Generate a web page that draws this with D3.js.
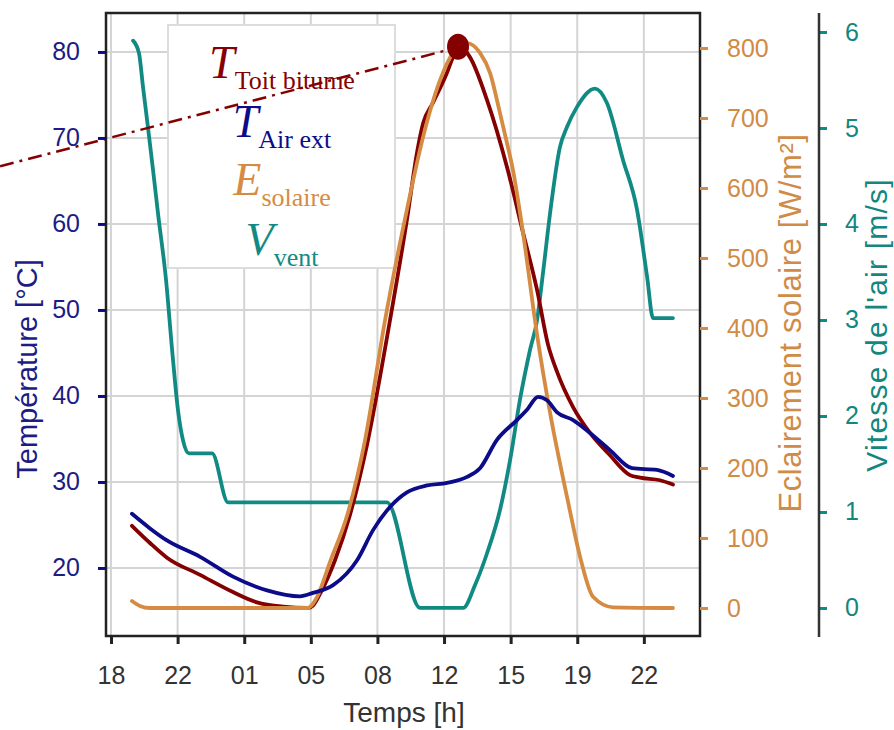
<!DOCTYPE html>
<html>
<head>
<meta charset="utf-8">
<script src="https://cdn.jsdelivr.net/npm/d3@7"></script>
<style>
  body { margin: 0; background: #fff; }
  text { font-family: "Liberation Sans", Arial, sans-serif; }
</style>
</head>
<body>
<svg id="chart" width="894" height="730"></svg>
<script>
// time in hours after 18:00
var xTickHours = [0, 3.5, 7, 10.5, 14, 17.5, 21, 24.5, 28];
var xTickLabels = ["18", "22", "01", "05", "08", "12", "15", "19", "22"];
var tempTicks = [20, 30, 40, 50, 60, 70, 80];
var solarTicks = [0, 100, 200, 300, 400, 500, 600, 700, 800];
var windTicks = [0, 1, 2, 3, 4, 5, 6];

var timeAir = [1.1, 2.05, 2.94, 4.68, 6.41, 8.2, 9.93, 10.61, 11.67, 12.93, 13.77, 14.66, 15.55, 16.61, 17.66, 18.71, 19.39, 20.28, 21.33, 21.86, 22.44, 22.91, 23.44, 24.28, 25.17, 26.22, 27.38, 28.69, 29.53];
var airTemp = [26.3, 24.6, 23.2, 21.3, 19.0, 17.4, 16.7, 17.1, 18.0, 20.9, 24.4, 27.1, 28.8, 29.6, 29.9, 30.6, 31.6, 34.9, 37.2, 38.4, 39.9, 39.5, 38.1, 37.2, 35.7, 33.7, 31.6, 31.4, 30.7];

var timeRoof = [1.1, 2.05, 2.94, 4.68, 6.41, 7.67, 9.04, 10.35, 10.6, 11.03, 11.77, 12.56, 13.45, 14.66, 15.55, 16.08, 16.4, 16.92, 17.66, 17.97, 18.34, 18.86, 19.76, 20.81, 21.65, 22.39, 22.96, 23.44, 24.28, 25.17, 26.22, 27.27, 27.8, 28.85, 29.53];
var roofTemp = [24.9, 22.9, 21.2, 19.2, 17.2, 16.0, 15.5, 15.35, 15.6, 17.2, 20.9, 26.2, 34.3, 48.8, 60.5, 68.3, 71.7, 74.1, 77.6, 79.4, 80.6, 79.4, 74.4, 66.6, 59.0, 52.3, 46.0, 42.8, 38.7, 35.7, 33.1, 30.8, 30.5, 30.2, 29.7];

var timeSolar = [1.1, 1.52, 2.05, 10.35, 10.51, 10.83, 11.51, 12.45, 13.35, 14.4, 15.55, 16.4, 17.29, 17.97, 18.71, 19.39, 19.92, 20.44, 20.81, 21.12, 21.65, 22.39, 23.07, 23.96, 24.65, 25.33, 26.38, 29.53];
var solar = [10, 3, 0, 0, 3, 16, 66, 136, 240, 411, 569, 673, 754, 793, 807, 793, 764, 707, 664, 626, 536, 390, 279, 159, 73, 16, 1, 0];

var timeWind = [1.16, 1.47, 1.68, 1.94, 2.21, 2.47, 2.89, 3.21, 3.52, 3.78, 4.1, 5.31, 6.15, 14.5, 16.24, 18.5, 19.13, 19.76, 20.44, 20.97, 21.49, 22.02, 22.39, 22.7, 23.07, 23.59, 23.96, 24.49, 25.43, 26.06, 26.9, 27.64, 28.17, 28.48, 29.53];
var wind = [5.91, 5.78, 5.43, 5.01, 4.56, 4.11, 3.42, 2.69, 2.06, 1.75, 1.61, 1.61, 1.1, 1.1, 0, 0, 0.24, 0.57, 1.02, 1.54, 2.17, 2.69, 3.0, 3.49, 4.11, 4.8, 5.01, 5.22, 5.41, 5.26, 4.67, 4.15, 3.45, 3.02, 3.02];

// start of the dash-dot pointer to the roof peak
var pointerFrom = [-5.83, 66.7];

var colors = { roof: "#850000", air: "#0c0c8a", solar: "#d68b42", wind: "#128a84" };

var svg = d3.select("#chart"),
    plot = { left: 106, top: 13, right: 700, bottom: 636 },
    windAxisX = 819;

var x = d3.scaleLinear().domain([-0.263, 30.95]).range([plot.left, plot.right]);
var yT = d3.scaleLinear().domain([12.09, 84.53]).range([plot.bottom, plot.top]);
var yE = d3.scaleLinear().domain([-40, 850]).range([plot.bottom, plot.top]);
var yV = d3.scaleLinear().domain([-0.292, 6.198]).range([plot.bottom, plot.top]);

// grid
var grid = svg.append("g").attr("stroke", "#d4d4d4").attr("stroke-width", 2);
grid.selectAll("line.v")
    .data(xTickHours)
    .enter().append("line")
    .attr("x1", x).attr("x2", x)
    .attr("y1", plot.top).attr("y2", plot.bottom);
grid.selectAll("line.h")
    .data(tempTicks)
    .enter().append("line")
    .attr("x1", plot.left).attr("x2", plot.right)
    .attr("y1", yT).attr("y2", yT);

// legend box
var legend = svg.append("g");
legend.append("rect")
    .attr("x", 168).attr("y", 25)
    .attr("width", 227).attr("height", 243)
    .attr("fill", "#fff")
    .attr("stroke", "#dcdcdc")
    .attr("stroke-width", 2);

var legendItems = [
    { main: "T", sub: "Toit bitume", color: colors.roof, y: 78 },
    { main: "T", sub: "Air ext", color: colors.air, y: 137 },
    { main: "E", sub: "solaire", color: colors.solar, y: 195 },
    { main: "V", sub: "vent", color: colors.wind, y: 255 }
];
var lt = legend.selectAll("text")
    .data(legendItems)
    .enter().append("text")
    .attr("x", 282)
    .attr("y", function (d) { return d.y; })
    .attr("text-anchor", "middle")
    .attr("fill", function (d) { return d.color; })
    .style("font-family", "'Liberation Serif', 'Times New Roman', serif");
lt.append("tspan")
    .attr("font-size", 46)
    .attr("font-style", "italic")
    .text(function (d) { return d.main; });
lt.append("tspan")
    .attr("font-size", 26)
    .attr("dy", 11)
    .text(function (d) { return d.sub; });

// series
function series(times, values, y, color) {
    var pts = times.map(function (t, i) { return [t, values[i]]; });
    svg.append("path")
        .datum(pts)
        .attr("fill", "none")
        .attr("stroke", color)
        .attr("stroke-width", 3.8)
        .attr("stroke-linejoin", "round")
        .attr("stroke-linecap", "round")
        .attr("d", d3.line()
            .curve(d3.curveMonotoneX)
            .x(function (d) { return x(d[0]); })
            .y(function (d) { return y(d[1]); }));
}
series(timeWind, wind, yV, colors.wind);
series(timeRoof, roofTemp, yT, colors.roof);
series(timeSolar, solar, yE, colors.solar);
series(timeAir, airTemp, yT, colors.air);

// pointer to roof peak
var peakIdx = d3.maxIndex(roofTemp);
var peak = [timeRoof[peakIdx], roofTemp[peakIdx]];
svg.append("line")
    .attr("x1", x(pointerFrom[0])).attr("y1", yT(pointerFrom[1]))
    .attr("x2", x(peak[0])).attr("y2", yT(peak[1]))
    .attr("stroke", colors.roof)
    .attr("stroke-width", 2.5)
    .attr("stroke-dasharray", "14,6,3,6");
svg.append("ellipse")
    .attr("cx", x(peak[0]) - 2).attr("cy", yT(peak[1]))
    .attr("rx", 11).attr("ry", 13)
    .attr("fill", colors.roof);

// frame
svg.append("rect")
    .attr("x", plot.left).attr("y", plot.top)
    .attr("width", plot.right - plot.left)
    .attr("height", plot.bottom - plot.top)
    .attr("fill", "none")
    .attr("stroke", "#222")
    .attr("stroke-width", 2.5);

// axes
function styleAxis(g, color, textColor) {
    g.select(".domain").remove();
    g.selectAll(".tick line").attr("stroke", color).attr("stroke-width", 3);
    g.selectAll(".tick text").attr("fill", textColor).attr("font-size", 25)
        .style("font-family", "'Liberation Sans', Arial, sans-serif");
}

svg.append("g")
    .attr("transform", "translate(0," + plot.bottom + ")")
    .call(d3.axisBottom(x).tickValues(xTickHours).tickSize(8).tickPadding(22)
        .tickFormat(function (d, i) { return xTickLabels[i]; }))
    .call(styleAxis, "#222", "#333");

svg.append("g")
    .attr("transform", "translate(" + plot.left + ",0)")
    .call(d3.axisLeft(yT).tickValues(tempTicks).tickSize(8).tickPadding(18))
    .call(styleAxis, colors.air, "#1c1c84");

svg.append("g")
    .attr("transform", "translate(" + plot.right + ",0)")
    .call(d3.axisRight(yE).tickValues(solarTicks).tickSize(8).tickPadding(19))
    .call(styleAxis, colors.solar, "#d08b47");

var windAxis = svg.append("g")
    .attr("transform", "translate(" + windAxisX + ",0)")
    .call(d3.axisRight(yV).tickValues(windTicks).tickSize(8).tickPadding(18)
        .tickFormat(d3.format("d")))
    .call(styleAxis, colors.wind, "#14867f");
windAxis.append("line")
    .attr("y1", plot.top).attr("y2", plot.bottom + 1)
    .attr("stroke", "#333").attr("stroke-width", 2.5);

// axis titles
svg.append("text")
    .attr("x", 404).attr("y", 722)
    .attr("text-anchor", "middle")
    .attr("font-size", 28)
    .attr("fill", "#333")
    .text("Temps [h]");

svg.append("text")
    .attr("transform", "translate(37,369)rotate(-90)")
    .attr("text-anchor", "middle")
    .attr("font-size", 29)
    .attr("fill", "#1c1c84")
    .text("Température [°C]");

svg.append("text")
    .attr("transform", "translate(801,323)rotate(-90)")
    .attr("text-anchor", "middle")
    .attr("font-size", 31)
    .attr("letter-spacing", 0.6)
    .attr("fill", "#d08b47")
    .text("Eclairement solaire [W/m²]");

svg.append("text")
    .attr("transform", "translate(887,325)rotate(-90)")
    .attr("text-anchor", "middle")
    .attr("font-size", 30)
    .attr("letter-spacing", 1.2)
    .attr("fill", "#14867f")
    .text("Vitesse de l'air [m/s]");
</script>
</body>
</html>
